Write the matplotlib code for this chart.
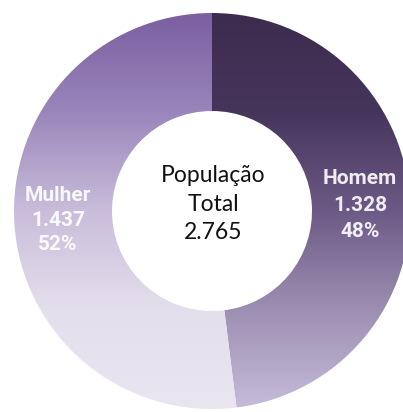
import numpy as np
import matplotlib
matplotlib.use('Agg')
import matplotlib.pyplot as plt
from matplotlib.colors import LinearSegmentedColormap

# dados
categorias = ['Homem', 'Mulher']
valores = [1328, 1437]
rotulos_valor = ['1.328', '1.437']
percentuais = ['48%', '52%']
total_txt = '2.765'

# gradientes verticais (topo -> base)
grad_homem = ['#3e2c4f', '#46355b', '#6c5a86', '#9d8fb2', '#c6bcd9']
grad_mulher = ['#7b5fa1', '#9a86bb', '#c9bdda', '#e4dfec', '#e9e5f1']

W, H = 403, 412
cx, cy, r_out, r_in = 212, 211, 198, 100

fig = plt.figure(figsize=(W / 100, H / 100), dpi=100)
ax = fig.add_axes([0, 0, 1, 1])

# com o eixo y invertido o sentido anti-horario do pie vira horario na tela
wedges, _ = ax.pie(valores, startangle=-90, counterclock=True,
                   center=(cx, cy), radius=r_out, frame=True,
                   wedgeprops=dict(width=r_out - r_in, linewidth=0))

for w, cores in zip(wedges, [grad_homem, grad_mulher]):
    w.set_facecolor('none')
    cmap = LinearSegmentedColormap.from_list('g', cores)
    grad = np.linspace(0, 1, 256).reshape(-1, 1)
    im = ax.imshow(grad, cmap=cmap, aspect='auto',
                   extent=(cx - r_out, cx + r_out, cy + r_out, cy - r_out),
                   interpolation='bilinear')
    im.set_clip_path(w)

ax.set_xlim(0, W)
ax.set_ylim(H, 0)
ax.set_aspect('equal')
ax.axis('off')

# texto central
for txt, y in zip(['População', 'Total', total_txt], [175, 204, 232]):
    ax.text(213, y, txt, ha='center', va='center', fontsize=16.5,
            family='Lato', color='#111111')

# rotulos das fatias
pos = {'Homem': (360, [178, 205, 231]), 'Mulher': (58, [195, 220, 244])}
for cat, v, p in zip(categorias, rotulos_valor, percentuais):
    x, ys = pos[cat]
    for txt, y in zip([cat, v, p], ys):
        ax.text(x, y, txt, ha='center', va='center', fontsize=15,
                family='Roboto', fontweight='bold', color='white', alpha=0.9)

fig.savefig('out.png', dpi=100)
